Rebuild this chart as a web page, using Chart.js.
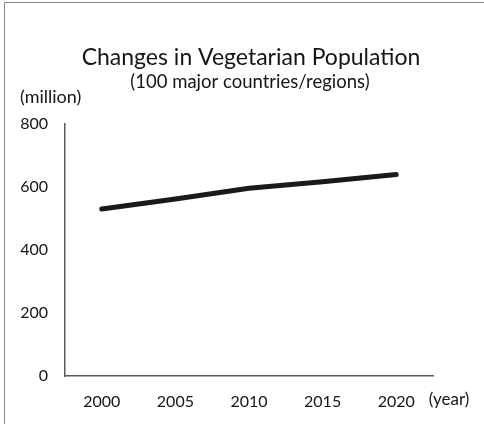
<!DOCTYPE html>
<html>
<head>
<meta charset="utf-8">
<script src="https://cdn.jsdelivr.net/npm/chart.js@4/dist/chart.umd.min.js"></script>
<style>
  html, body { margin: 0; padding: 0; background: #fff; }
  #wrap { width: 484px; height: 424px; position: relative; }
</style>
</head>
<body>
<div id="wrap"><canvas id="vegChart"></canvas></div>
<script>
// chart data
const years = ['2000', '2005', '2010', '2015', '2020'];
const population = [530, 562, 596, 617, 640]; // million people
const yMin = 0;
const yMax = 800;
const yStep = 200;

const titleText = 'Changes in Vegetarian Population';
const subtitleText = '(100 major countries/regions)';
const yUnit = '(million)';
const xUnit = '(year)';

const FONT = 'Lato, "Open Sans", sans-serif';

// draws the frame and the free text around the plot
const extraText = {
    id: 'extraText',
    beforeDraw(chart) {
        const c = chart.ctx;
        c.save();
        c.strokeStyle = '#8a8a8a';
        c.lineWidth = 1;
        c.beginPath();
        c.moveTo(4.5, 424);
        c.lineTo(4.5, 2.5);
        c.lineTo(484, 2.5);
        c.stroke();
        c.restore();
    },
    afterDraw(chart) {
        const c = chart.ctx;
        const area = chart.chartArea;
        c.save();
        c.fillStyle = '#151515';
        c.textBaseline = 'middle';

        c.textAlign = 'center';
        c.font = '23px ' + FONT;
        c.fillText(titleText, 251, 58);
        c.font = '18.5px ' + FONT;
        c.fillText(subtitleText, 250, 82);

        c.font = '18px ' + FONT;
        c.textAlign = 'left';
        c.fillText(yUnit, 20, 97);
        c.font = '17px ' + FONT;
        c.textAlign = 'center';
        c.fillText(xUnit, area.right + 16, 400);
        c.restore();
    }
};

const ctx = document.getElementById('vegChart').getContext('2d');
new Chart(ctx, {
    type: 'line',
    data: {
        labels: years,
        datasets: [{
            data: population,
            borderColor: '#1a1a1a',
            borderWidth: 5,
            borderCapStyle: 'round',
            borderJoinStyle: 'round',
            pointRadius: 0,
            tension: 0,
            fill: false
        }]
    },
    options: {
        responsive: true,
        maintainAspectRatio: false,
        animation: false,
        layout: {
            padding: { top: 124, right: 51, bottom: 0, left: 0 }
        },
        plugins: {
            legend: { display: false },
            tooltip: { enabled: false }
        },
        scales: {
            x: {
                type: 'category',
                offset: true,
                grid: { display: false, drawTicks: false },
                border: { display: true, color: '#5a5a5a', width: 1.5 },
                ticks: {
                    color: '#151515',
                    padding: 16,
                    maxRotation: 0,
                    font: { family: FONT, size: 16 }
                },
                afterFit(scale) { scale.height = 48; }
            },
            y: {
                min: yMin,
                max: yMax,
                grid: { display: false, drawTicks: false },
                border: { display: true, color: '#5a5a5a', width: 1.5 },
                ticks: {
                    stepSize: yStep,
                    color: '#151515',
                    padding: 17,
                    font: { family: FONT, size: 16 }
                },
                afterFit(scale) { scale.width = 65; }
            }
        }
    },
    plugins: [extraText]
});
</script>
</body>
</html>
